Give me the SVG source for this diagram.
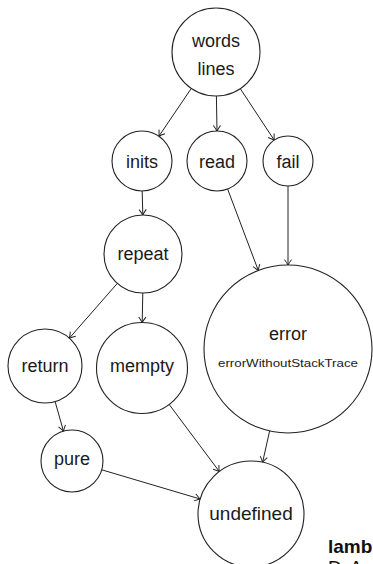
<svg xmlns="http://www.w3.org/2000/svg" width="373" height="564" viewBox="0 0 373 564">
<defs>
<marker id="arr" markerUnits="userSpaceOnUse" markerWidth="12" markerHeight="12" viewBox="-7 -6 8 12" refX="0" refY="0" orient="auto">
<path d="M-5.5,-3.6 Q-2,-1 0,0 Q-2,1 -5.5,3.6" fill="none" stroke="#222" stroke-width="1"/>
</marker>
<style>
circle{fill:#fff;stroke:#222;stroke-width:1.1}
text{font-family:"Liberation Sans",Arial,sans-serif;font-size:18px;fill:#1a1a1a;text-anchor:middle}
.e line{stroke:#222;stroke-width:1;marker-end:url(#arr)}
</style>
</defs>
<rect width="373" height="564" fill="#fff"/>
<g class="e" id="edges">
<line x1="191.3" y1="88.4" x2="158.9" y2="136.2"/>
<line x1="216.4" y1="96" x2="217" y2="131"/>
<line x1="240.3" y1="88.7" x2="274.2" y2="140.1"/>
<line x1="142.2" y1="191" x2="142.8" y2="215"/>
<line x1="227.6" y1="189" x2="258.3" y2="270.5"/>
<line x1="288" y1="186" x2="288" y2="265"/>
<line x1="117.3" y1="283.4" x2="69.4" y2="338.1"/>
<line x1="142.8" y1="293" x2="142.2" y2="322.5"/>
<line x1="55.1" y1="401.6" x2="63.5" y2="431.2"/>
<line x1="169.2" y1="404.5" x2="219.3" y2="471.5"/>
<line x1="269.6" y1="431" x2="262.6" y2="462.3"/>
<line x1="101.7" y1="469.8" x2="200.2" y2="499"/>
</g>
<g id="words"><circle cx="216" cy="52" r="44"/><text x="216" y="47">words</text><text x="216" y="75">lines</text></g>
<g id="inits"><circle cx="142" cy="161" r="30"/><text x="142" y="168">inits</text></g>
<g id="read"><circle cx="217" cy="161" r="30"/><text x="217" y="168">read</text></g>
<g id="fail"><circle cx="288" cy="161" r="25"/><text x="288" y="168">fail</text></g>
<g id="repeat"><circle cx="143" cy="254" r="39"/><text x="143" y="260">repeat</text></g>
<g id="return"><circle cx="45" cy="366" r="37"/><text x="45" y="372">return</text></g>
<g id="mempty"><circle cx="142" cy="368" r="45.5"/><text x="142" y="372">mempty</text></g>
<g id="error"><circle cx="288" cy="349" r="84"/><text x="288" y="340">error</text><text x="288" y="367" style="font-size:11px" textLength="140" lengthAdjust="spacingAndGlyphs">errorWithoutStackTrace</text></g>
<g id="pure"><circle cx="72" cy="461" r="31"/><text x="72" y="465">pure</text></g>
<g id="undefined"><circle cx="251" cy="514" r="53"/><text x="251" y="520" style="font-size:19px">undefined</text></g>
<text x="328" y="553" style="font-size:19px;font-weight:bold;text-anchor:start;fill:#111">lamb</text>
<text x="328" y="574" style="font-size:19px;text-anchor:start;letter-spacing:8px;fill:#111">DA</text>
</svg>
